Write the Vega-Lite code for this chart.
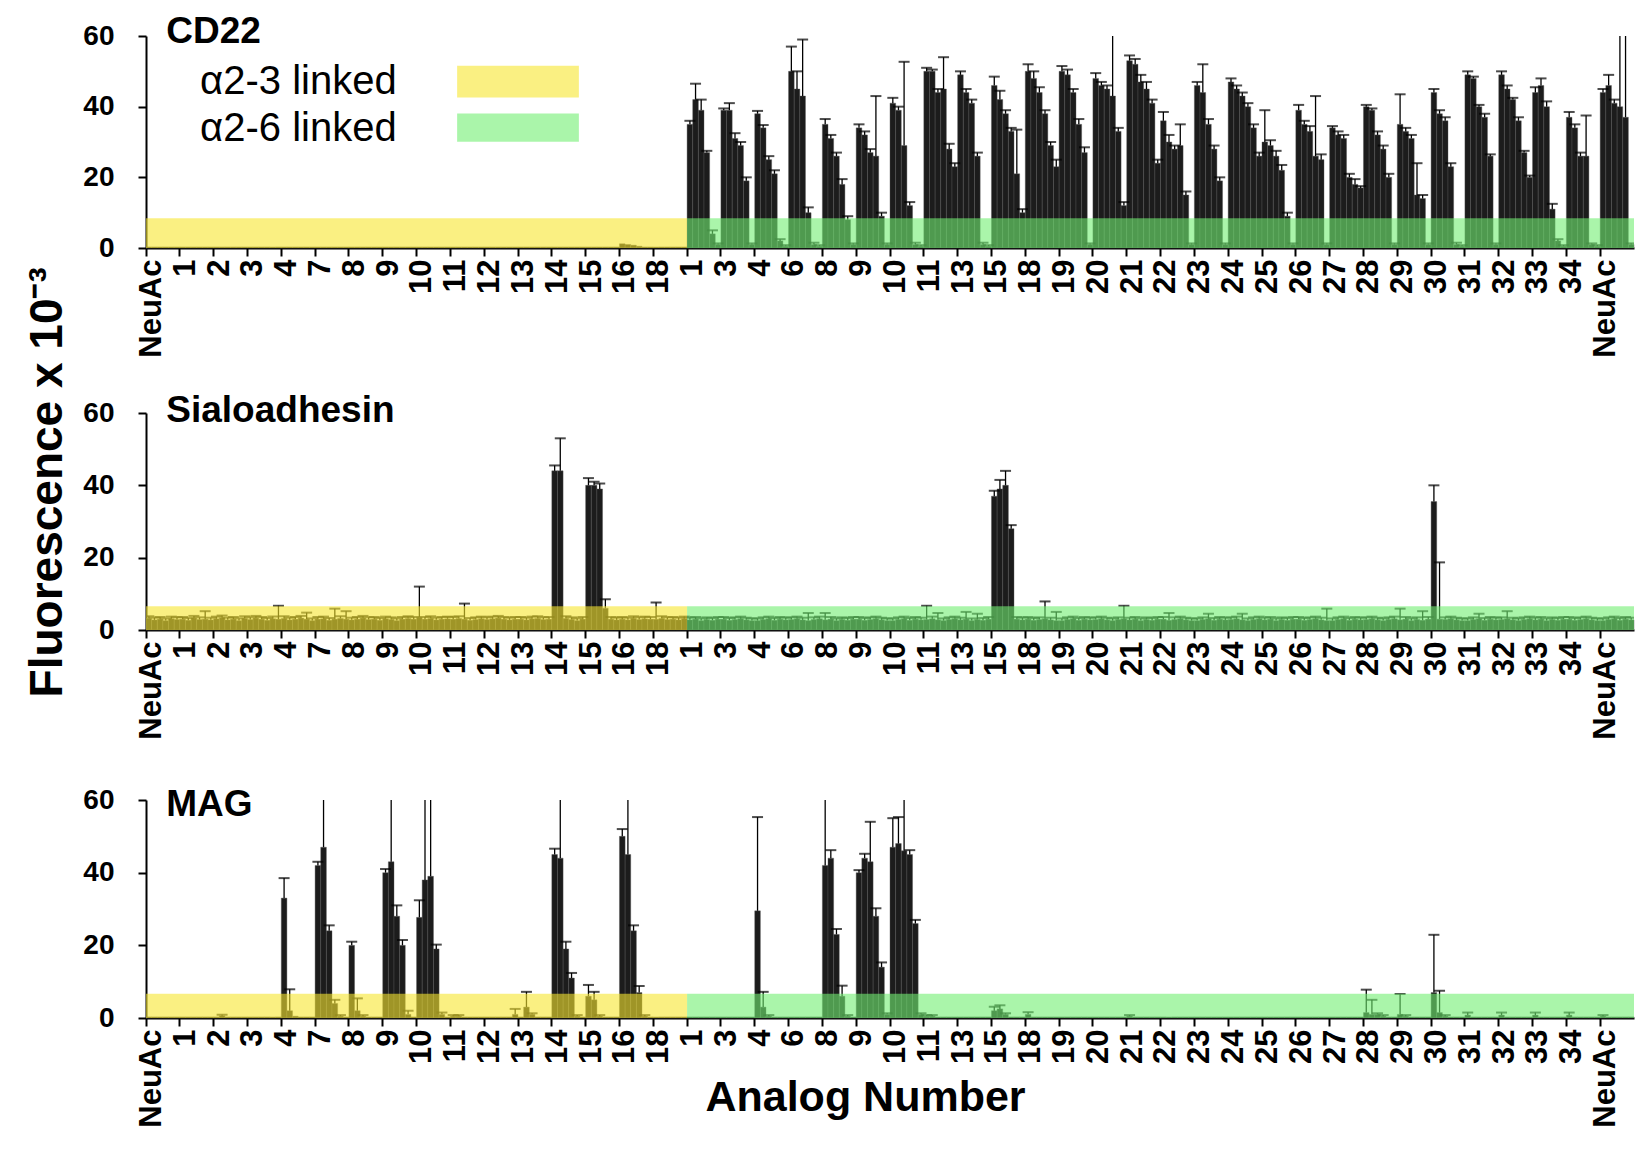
{
"$schema":"https://vega.github.io/schema/vega-lite/v6.json",
"background":"white",
"padding":{"left":24,"top":13,"right":5,"bottom":5},
"spacing":34,
"title":{"text":"Fluorescence x 10⁻³","orient":"left","anchor":"middle","fontSize":46,"fontWeight":"bold","font":"Liberation Sans","color":"black","baseline":"bottom","offset":-35,"dx":88},
"config":{"view":{"stroke":null},"font":"Liberation Sans","axis":{"domainColor":"black","domainWidth":2,"tickColor":"black","tickWidth":2,"tickSize":8,"grid":false,"labelColor":"black","titleColor":"black","labelFont":"Liberation Sans","titleFont":"Liberation Sans"}},
"datasets":{
"cd":[
{"g":1,"i":1,"v":0.3},{"g":1,"i":2,"v":0.3},{"g":1,"i":3,"v":0.3},{"g":1,"i":4,"v":0.3},{"g":1,"i":5,"v":0.3},{"g":1,"i":6,"v":0.3},
{"g":2,"i":1,"v":0.3},{"g":2,"i":2,"v":0.3},{"g":2,"i":3,"v":0.3},{"g":2,"i":4,"v":0.3},{"g":2,"i":5,"v":0.3},{"g":2,"i":6,"v":0.3},
{"g":3,"i":1,"v":0.3},{"g":3,"i":2,"v":0.3},{"g":3,"i":3,"v":0.3},{"g":3,"i":4,"v":0.3},{"g":3,"i":5,"v":0.3},{"g":3,"i":6,"v":0.3},
{"g":4,"i":1,"v":0.3},{"g":4,"i":2,"v":0.3},{"g":4,"i":3,"v":0.3},{"g":4,"i":4,"v":0.3},{"g":4,"i":5,"v":0.3},{"g":4,"i":6,"v":0.3},
{"g":5,"i":1,"v":0.3},{"g":5,"i":2,"v":0.3},{"g":5,"i":3,"v":0.3},{"g":5,"i":4,"v":0.3},{"g":5,"i":5,"v":0.3},{"g":5,"i":6,"v":0.3},
{"g":6,"i":1,"v":0.3},{"g":6,"i":2,"v":0.3},{"g":6,"i":3,"v":0.3},{"g":6,"i":4,"v":0.3},{"g":6,"i":5,"v":0.3},{"g":6,"i":6,"v":0.3},
{"g":7,"i":1,"v":0.3},{"g":7,"i":2,"v":0.3},{"g":7,"i":3,"v":0.3},{"g":7,"i":4,"v":0.3},{"g":7,"i":5,"v":0.3},{"g":7,"i":6,"v":0.3},
{"g":8,"i":1,"v":0.3},{"g":8,"i":2,"v":0.3},{"g":8,"i":3,"v":0.3},{"g":8,"i":4,"v":0.3},{"g":8,"i":5,"v":0.3},{"g":8,"i":6,"v":0.3},
{"g":9,"i":1,"v":0.3},{"g":9,"i":2,"v":0.3},{"g":9,"i":3,"v":0.3},{"g":9,"i":4,"v":0.3},{"g":9,"i":5,"v":0.3},{"g":9,"i":6,"v":0.3},
{"g":10,"i":1,"v":0.3},{"g":10,"i":2,"v":0.3},{"g":10,"i":3,"v":0.3},{"g":10,"i":4,"v":0.3},{"g":10,"i":5,"v":0.3},{"g":10,"i":6,"v":0.3},
{"g":11,"i":1,"v":0.3},{"g":11,"i":2,"v":0.3},{"g":11,"i":3,"v":0.3},{"g":11,"i":4,"v":0.3},{"g":11,"i":5,"v":0.3},{"g":11,"i":6,"v":0.3},
{"g":12,"i":1,"v":0.3},{"g":12,"i":2,"v":0.3},{"g":12,"i":3,"v":0.3},{"g":12,"i":4,"v":0.3},{"g":12,"i":5,"v":0.3},{"g":12,"i":6,"v":0.3},
{"g":13,"i":1,"v":0.3},{"g":13,"i":2,"v":0.3},{"g":13,"i":3,"v":0.3},{"g":13,"i":4,"v":0.3},{"g":13,"i":5,"v":0.3},{"g":13,"i":6,"v":0.3},
{"g":14,"i":1,"v":0.3},{"g":14,"i":2,"v":0.3},{"g":14,"i":3,"v":0.3},{"g":14,"i":4,"v":0.3},{"g":14,"i":5,"v":0.3},{"g":14,"i":6,"v":0.3},
{"g":15,"i":1,"v":1.2},{"g":15,"i":2,"v":1},{"g":15,"i":3,"v":0.8},{"g":15,"i":4,"v":0.5},{"g":15,"i":5,"v":0.3},{"g":15,"i":6,"v":0.3},
{"g":16,"i":1,"v":0.3},{"g":16,"i":2,"v":0.3},{"g":16,"i":3,"v":0.3},{"g":16,"i":4,"v":0.3},{"g":16,"i":5,"v":0.3},{"g":16,"i":6,"v":0.3},
{"g":17,"i":1,"v":35,"h":36},{"g":17,"i":2,"v":42,"h":46.5},{"g":17,"i":3,"v":39,"h":42},{"g":17,"i":4,"v":27,"h":27.5},{"g":17,"i":5,"v":4,"h":5},{"g":17,"i":6,"v":1,"h":1.3},
{"g":18,"i":1,"v":39,"h":39.5},{"g":18,"i":2,"v":39,"h":41},{"g":18,"i":3,"v":31,"h":32.5},{"g":18,"i":4,"v":29,"h":30},{"g":18,"i":5,"v":19,"h":20},{"g":18,"i":6,"v":1,"h":1.3},
{"g":19,"i":1,"v":38,"h":38.8},{"g":19,"i":2,"v":34,"h":34.8},{"g":19,"i":3,"v":25,"h":26},{"g":19,"i":4,"v":21,"h":22},{"g":19,"i":5,"v":2,"h":2.5},{"g":19,"i":6,"v":0.5,"h":0.8},
{"g":20,"i":1,"v":50,"h":57},{"g":20,"i":2,"v":45,"h":50},{"g":20,"i":3,"v":43,"h":59},{"g":20,"i":4,"v":10,"h":11.5},{"g":20,"i":5,"v":1,"h":1.5},{"g":20,"i":6,"v":0.5,"h":0.8},
{"g":21,"i":1,"v":35,"h":36.5},{"g":21,"i":2,"v":31,"h":32},{"g":21,"i":3,"v":26,"h":27},{"g":21,"i":4,"v":18,"h":19.5},{"g":21,"i":5,"v":8,"h":9},{"g":21,"i":6,"v":1,"h":1.3},
{"g":22,"i":1,"v":34,"h":35},{"g":22,"i":2,"v":32,"h":33},{"g":22,"i":3,"v":27,"h":28},{"g":22,"i":4,"v":26,"h":43},{"g":22,"i":5,"v":9,"h":10},{"g":22,"i":6,"v":1,"h":1.3},
{"g":23,"i":1,"v":41,"h":42.5},{"g":23,"i":2,"v":39,"h":40},{"g":23,"i":3,"v":29,"h":52.7},{"g":23,"i":4,"v":12,"h":13},{"g":23,"i":5,"v":1,"h":1.5},{"g":23,"i":6,"v":0.5,"h":0.8},
{"g":24,"i":1,"v":50,"h":51},{"g":24,"i":2,"v":50,"h":50.5},{"g":24,"i":3,"v":44,"h":45},{"g":24,"i":4,"v":45,"h":54},{"g":24,"i":5,"v":28,"h":29.5},{"g":24,"i":6,"v":23,"h":24},
{"g":25,"i":1,"v":49,"h":50},{"g":25,"i":2,"v":44,"h":45},{"g":25,"i":3,"v":41,"h":42},{"g":25,"i":4,"v":26,"h":27},{"g":25,"i":5,"v":1,"h":1.5},{"g":25,"i":6,"v":0.5,"h":0.8},
{"g":26,"i":1,"v":46,"h":48.5},{"g":26,"i":2,"v":42,"h":44.5},{"g":26,"i":3,"v":38,"h":39},{"g":26,"i":4,"v":33,"h":34},{"g":26,"i":5,"v":21,"h":33.5},{"g":26,"i":6,"v":10,"h":11},
{"g":27,"i":1,"v":50,"h":52},{"g":27,"i":2,"v":48,"h":50},{"g":27,"i":3,"v":44,"h":45.5},{"g":27,"i":4,"v":38,"h":39},{"g":27,"i":5,"v":29,"h":30},{"g":27,"i":6,"v":23,"h":25},
{"g":28,"i":1,"v":50,"h":51.5},{"g":28,"i":2,"v":49,"h":50.5},{"g":28,"i":3,"v":44,"h":45},{"g":28,"i":4,"v":35,"h":36.5},{"g":28,"i":5,"v":27,"h":28.5},{"g":28,"i":6,"v":1,"h":1.3},
{"g":29,"i":1,"v":48,"h":49.5},{"g":29,"i":2,"v":46,"h":47},{"g":29,"i":3,"v":45,"h":46},{"g":29,"i":4,"v":43,"h":62},{"g":29,"i":5,"v":33,"h":34},{"g":29,"i":6,"v":12,"h":13},
{"g":30,"i":1,"v":53,"h":54.5},{"g":30,"i":2,"v":52,"h":53.5},{"g":30,"i":3,"v":47,"h":49},{"g":30,"i":4,"v":45,"h":47},{"g":30,"i":5,"v":41,"h":42},{"g":30,"i":6,"v":24,"h":25},
{"g":31,"i":1,"v":36,"h":38.5},{"g":31,"i":2,"v":30,"h":32},{"g":31,"i":3,"v":28,"h":29},{"g":31,"i":4,"v":29,"h":35},{"g":31,"i":5,"v":15,"h":16},{"g":31,"i":6,"v":1,"h":1.3},
{"g":32,"i":1,"v":46,"h":47},{"g":32,"i":2,"v":44,"h":52},{"g":32,"i":3,"v":35,"h":36.5},{"g":32,"i":4,"v":28,"h":29},{"g":32,"i":5,"v":19,"h":20},{"g":32,"i":6,"v":1,"h":1.3},
{"g":33,"i":1,"v":47,"h":48},{"g":33,"i":2,"v":45,"h":46},{"g":33,"i":3,"v":43,"h":44},{"g":33,"i":4,"v":40,"h":41},{"g":33,"i":5,"v":34,"h":35},{"g":33,"i":6,"v":26,"h":27},
{"g":34,"i":1,"v":30,"h":39},{"g":34,"i":2,"v":29,"h":30.5},{"g":34,"i":3,"v":26,"h":27.5},{"g":34,"i":4,"v":22,"h":23.5},{"g":34,"i":5,"v":9,"h":10},{"g":34,"i":6,"v":1,"h":1.3},
{"g":35,"i":1,"v":39,"h":40.5},{"g":35,"i":2,"v":35,"h":36},{"g":35,"i":3,"v":33,"h":34.5},{"g":35,"i":4,"v":26,"h":43},{"g":35,"i":5,"v":25,"h":26.5},{"g":35,"i":6,"v":1,"h":1.3},
{"g":36,"i":1,"v":34,"h":34.5},{"g":36,"i":2,"v":32,"h":33},{"g":36,"i":3,"v":31,"h":32},{"g":36,"i":4,"v":20,"h":21},{"g":36,"i":5,"v":18,"h":19.5},{"g":36,"i":6,"v":17,"h":17.5},
{"g":37,"i":1,"v":40,"h":40.5},{"g":37,"i":2,"v":39,"h":39.5},{"g":37,"i":3,"v":32,"h":33},{"g":37,"i":4,"v":28,"h":29},{"g":37,"i":5,"v":20,"h":21},{"g":37,"i":6,"v":1,"h":1.3},
{"g":38,"i":1,"v":35,"h":43.5},{"g":38,"i":2,"v":33,"h":34},{"g":38,"i":3,"v":31,"h":32},{"g":38,"i":4,"v":15,"h":24},{"g":38,"i":5,"v":14,"h":15},{"g":38,"i":6,"v":1,"h":1.3},
{"g":39,"i":1,"v":44,"h":45},{"g":39,"i":2,"v":38,"h":39},{"g":39,"i":3,"v":36,"h":37},{"g":39,"i":4,"v":23,"h":24},{"g":39,"i":5,"v":1,"h":1.5},{"g":39,"i":6,"v":0.5,"h":0.8},
{"g":40,"i":1,"v":49,"h":50},{"g":40,"i":2,"v":48,"h":48.5},{"g":40,"i":3,"v":40,"h":40.5},{"g":40,"i":4,"v":37,"h":38},{"g":40,"i":5,"v":26,"h":26.5},{"g":40,"i":6,"v":1,"h":1.3},
{"g":41,"i":1,"v":49,"h":50},{"g":41,"i":2,"v":45,"h":46},{"g":41,"i":3,"v":42,"h":42.5},{"g":41,"i":4,"v":36,"h":37},{"g":41,"i":5,"v":27,"h":27.5},{"g":41,"i":6,"v":20,"h":20.5},
{"g":42,"i":1,"v":44,"h":45.5},{"g":42,"i":2,"v":46,"h":48},{"g":42,"i":3,"v":40,"h":41.5},{"g":42,"i":4,"v":11,"h":12.5},{"g":42,"i":5,"v":2,"h":2.5},{"g":42,"i":6,"v":0.5,"h":0.8},
{"g":43,"i":1,"v":37,"h":38.5},{"g":43,"i":2,"v":34,"h":35},{"g":43,"i":3,"v":26,"h":27},{"g":43,"i":4,"v":26,"h":37.5},{"g":43,"i":5,"v":1,"h":1.3},{"g":43,"i":6,"v":0.5,"h":0.8},
{"g":44,"i":1,"v":44,"h":45},{"g":44,"i":2,"v":46,"h":49},{"g":44,"i":3,"v":41,"h":42},{"g":44,"i":4,"v":40,"h":65},{"g":44,"i":5,"v":37,"h":65},{"g":44,"i":6,"v":1,"h":1.3}
],
"sia":[
{"g":1,"i":1,"v":3.2,"h":3.8},{"g":1,"i":2,"v":2.8,"h":3.4},{"g":1,"i":3,"v":3.0,"h":3.6},{"g":1,"i":4,"v":2.6,"h":3.2},{"g":1,"i":5,"v":3.1,"h":3.7},{"g":1,"i":6,"v":2.9,"h":3.5},
{"g":2,"i":1,"v":3.0,"h":3.6},{"g":2,"i":2,"v":2.7,"h":3.3},{"g":2,"i":3,"v":3.3,"h":3.9},{"g":2,"i":4,"v":2.9,"h":3.5},{"g":2,"i":5,"v":3.0,"h":5.2},{"g":2,"i":6,"v":2.8,"h":3.4},
{"g":3,"i":1,"v":3.1,"h":3.7},{"g":3,"i":2,"v":3.4,"h":4.0},{"g":3,"i":3,"v":2.8,"h":3.4},{"g":3,"i":4,"v":3.0,"h":3.6},{"g":3,"i":5,"v":2.6,"h":3.2},{"g":3,"i":6,"v":3.2,"h":3.8},
{"g":4,"i":1,"v":2.9,"h":3.5},{"g":4,"i":2,"v":3.3,"h":3.9},{"g":4,"i":3,"v":3.0,"h":3.6},{"g":4,"i":4,"v":2.7,"h":3.3},{"g":4,"i":5,"v":3.1,"h":3.7},{"g":4,"i":6,"v":3.0,"h":6.7},
{"g":5,"i":1,"v":3.2,"h":3.8},{"g":5,"i":2,"v":2.8,"h":3.4},{"g":5,"i":3,"v":3.0,"h":3.6},{"g":5,"i":4,"v":3.3,"h":3.9},{"g":5,"i":5,"v":3.0,"h":4.8},{"g":5,"i":6,"v":2.6,"h":3.2},
{"g":6,"i":1,"v":3.0,"h":3.6},{"g":6,"i":2,"v":3.1,"h":3.7},{"g":6,"i":3,"v":2.7,"h":3.3},{"g":6,"i":4,"v":3.0,"h":5.9},{"g":6,"i":5,"v":3.2,"h":3.8},{"g":6,"i":6,"v":3.0,"h":5.2},
{"g":7,"i":1,"v":2.8,"h":3.4},{"g":7,"i":2,"v":3.0,"h":3.6},{"g":7,"i":3,"v":3.3,"h":3.9},{"g":7,"i":4,"v":2.9,"h":3.5},{"g":7,"i":5,"v":3.0,"h":3.6},{"g":7,"i":6,"v":2.7,"h":3.3},
{"g":8,"i":1,"v":3.1,"h":3.7},{"g":8,"i":2,"v":2.9,"h":3.5},{"g":8,"i":3,"v":2.6,"h":3.2},{"g":8,"i":4,"v":3.0,"h":3.6},{"g":8,"i":5,"v":3.2,"h":3.8},{"g":8,"i":6,"v":3.0,"h":3.6},
{"g":9,"i":1,"v":3.5,"h":12},{"g":9,"i":2,"v":3.0,"h":3.6},{"g":9,"i":3,"v":3.2,"h":3.8},{"g":9,"i":4,"v":2.8,"h":3.4},{"g":9,"i":5,"v":3.0,"h":3.6},{"g":9,"i":6,"v":3.1,"h":3.7},
{"g":10,"i":1,"v":3.0,"h":3.6},{"g":10,"i":2,"v":3.2,"h":3.8},{"g":10,"i":3,"v":3.0,"h":7.3},{"g":10,"i":4,"v":2.7,"h":3.3},{"g":10,"i":5,"v":2.9,"h":3.5},{"g":10,"i":6,"v":3.1,"h":3.7},
{"g":11,"i":1,"v":2.9,"h":3.5},{"g":11,"i":2,"v":3.1,"h":3.7},{"g":11,"i":3,"v":3.3,"h":3.9},{"g":11,"i":4,"v":3.0,"h":3.6},{"g":11,"i":5,"v":2.8,"h":3.4},{"g":11,"i":6,"v":3.0,"h":3.6},
{"g":12,"i":1,"v":3.0,"h":3.6},{"g":12,"i":2,"v":2.8,"h":3.4},{"g":12,"i":3,"v":3.1,"h":3.7},{"g":12,"i":4,"v":3.2,"h":3.8},{"g":12,"i":5,"v":2.9,"h":3.5},{"g":12,"i":6,"v":3.0,"h":3.6},
{"g":13,"i":1,"v":44,"h":45.5},{"g":13,"i":2,"v":44,"h":53},{"g":13,"i":3,"v":3.2,"h":3.8},{"g":13,"i":4,"v":2.9,"h":3.5},{"g":13,"i":5,"v":2.6,"h":3.2},{"g":13,"i":6,"v":3.0,"h":3.6},
{"g":14,"i":1,"v":40,"h":42},{"g":14,"i":2,"v":40,"h":41},{"g":14,"i":3,"v":39,"h":40.5},{"g":14,"i":4,"v":6,"h":8.5},{"g":14,"i":5,"v":3.0,"h":3.6},{"g":14,"i":6,"v":2.8,"h":3.4},
{"g":15,"i":1,"v":3.0,"h":3.6},{"g":15,"i":2,"v":2.8,"h":3.4},{"g":15,"i":3,"v":3.2,"h":3.8},{"g":15,"i":4,"v":2.9,"h":3.5},{"g":15,"i":5,"v":3.1,"h":3.7},{"g":15,"i":6,"v":3.0,"h":3.6},
{"g":16,"i":1,"v":3.0,"h":7.6},{"g":16,"i":2,"v":3.2,"h":3.8},{"g":16,"i":3,"v":2.9,"h":3.5},{"g":16,"i":4,"v":3.0,"h":3.6},{"g":16,"i":5,"v":2.8,"h":3.4},{"g":16,"i":6,"v":3.1,"h":3.7},
{"g":17,"i":1,"v":2.8,"h":3.4},{"g":17,"i":2,"v":3.0,"h":3.6},{"g":17,"i":3,"v":2.6,"h":3.2},{"g":17,"i":4,"v":2.9,"h":3.5},{"g":17,"i":5,"v":2.7,"h":3.3},{"g":17,"i":6,"v":3.0,"h":3.6},
{"g":18,"i":1,"v":3.0,"h":3.6},{"g":18,"i":2,"v":2.7,"h":3.3},{"g":18,"i":3,"v":2.9,"h":3.5},{"g":18,"i":4,"v":3.1,"h":3.7},{"g":18,"i":5,"v":2.8,"h":3.4},{"g":18,"i":6,"v":2.6,"h":3.2},
{"g":19,"i":1,"v":2.6,"h":3.2},{"g":19,"i":2,"v":2.9,"h":3.5},{"g":19,"i":3,"v":3.1,"h":3.7},{"g":19,"i":4,"v":2.7,"h":3.3},{"g":19,"i":5,"v":3.0,"h":3.6},{"g":19,"i":6,"v":2.8,"h":3.4},
{"g":20,"i":1,"v":2.9,"h":3.5},{"g":20,"i":2,"v":3.1,"h":3.7},{"g":20,"i":3,"v":2.8,"h":3.4},{"g":20,"i":4,"v":2.6,"h":4.7},{"g":20,"i":5,"v":2.9,"h":3.5},{"g":20,"i":6,"v":3.1,"h":3.7},
{"g":21,"i":1,"v":2.8,"h":4.7},{"g":21,"i":2,"v":3.0,"h":3.6},{"g":21,"i":3,"v":2.6,"h":3.2},{"g":21,"i":4,"v":2.9,"h":3.5},{"g":21,"i":5,"v":2.7,"h":3.3},{"g":21,"i":6,"v":3.0,"h":3.6},
{"g":22,"i":1,"v":3.0,"h":3.6},{"g":22,"i":2,"v":2.7,"h":3.3},{"g":22,"i":3,"v":2.9,"h":3.5},{"g":22,"i":4,"v":3.1,"h":3.7},{"g":22,"i":5,"v":2.8,"h":3.4},{"g":22,"i":6,"v":2.6,"h":3.2},
{"g":23,"i":1,"v":2.6,"h":3.2},{"g":23,"i":2,"v":2.9,"h":3.5},{"g":23,"i":3,"v":3.1,"h":3.7},{"g":23,"i":4,"v":2.7,"h":3.3},{"g":23,"i":5,"v":3.0,"h":3.6},{"g":23,"i":6,"v":2.8,"h":3.4},
{"g":24,"i":1,"v":2.9,"h":6.7},{"g":24,"i":2,"v":3.1,"h":3.7},{"g":24,"i":3,"v":2.8,"h":4.7},{"g":24,"i":4,"v":2.6,"h":3.2},{"g":24,"i":5,"v":2.9,"h":3.5},{"g":24,"i":6,"v":3.1,"h":3.7},
{"g":25,"i":1,"v":2.8,"h":3.4},{"g":25,"i":2,"v":3.0,"h":5.0},{"g":25,"i":3,"v":2.6,"h":3.2},{"g":25,"i":4,"v":2.9,"h":4.5},{"g":25,"i":5,"v":2.7,"h":3.3},{"g":25,"i":6,"v":3.0,"h":3.6},
{"g":26,"i":1,"v":37,"h":38.5},{"g":26,"i":2,"v":39,"h":41.5},{"g":26,"i":3,"v":40,"h":44},{"g":26,"i":4,"v":28,"h":29},{"g":26,"i":5,"v":3.0,"h":3.6},{"g":26,"i":6,"v":2.8,"h":3.4},
{"g":27,"i":1,"v":3.0,"h":3.6},{"g":27,"i":2,"v":2.7,"h":3.3},{"g":27,"i":3,"v":2.9,"h":3.5},{"g":27,"i":4,"v":3.1,"h":7.9},{"g":27,"i":5,"v":2.8,"h":3.4},{"g":27,"i":6,"v":2.6,"h":5.0},
{"g":28,"i":1,"v":2.6,"h":3.2},{"g":28,"i":2,"v":2.9,"h":3.5},{"g":28,"i":3,"v":3.1,"h":3.7},{"g":28,"i":4,"v":2.7,"h":3.3},{"g":28,"i":5,"v":3.0,"h":3.6},{"g":28,"i":6,"v":2.8,"h":3.4},
{"g":29,"i":1,"v":2.9,"h":3.5},{"g":29,"i":2,"v":3.1,"h":3.7},{"g":29,"i":3,"v":2.8,"h":3.4},{"g":29,"i":4,"v":2.6,"h":3.2},{"g":29,"i":5,"v":2.9,"h":3.5},{"g":29,"i":6,"v":3.1,"h":6.7},
{"g":30,"i":1,"v":2.8,"h":3.4},{"g":30,"i":2,"v":3.0,"h":3.6},{"g":30,"i":3,"v":2.6,"h":3.2},{"g":30,"i":4,"v":2.9,"h":3.5},{"g":30,"i":5,"v":2.7,"h":3.3},{"g":30,"i":6,"v":3.0,"h":3.6},
{"g":31,"i":1,"v":3.0,"h":3.6},{"g":31,"i":2,"v":2.7,"h":4.7},{"g":31,"i":3,"v":2.9,"h":3.5},{"g":31,"i":4,"v":3.1,"h":3.7},{"g":31,"i":5,"v":2.8,"h":3.4},{"g":31,"i":6,"v":2.6,"h":3.2},
{"g":32,"i":1,"v":2.6,"h":3.2},{"g":32,"i":2,"v":2.9,"h":3.5},{"g":32,"i":3,"v":3.1,"h":4.5},{"g":32,"i":4,"v":2.7,"h":3.3},{"g":32,"i":5,"v":3.0,"h":3.6},{"g":32,"i":6,"v":2.8,"h":3.4},
{"g":33,"i":1,"v":2.9,"h":3.5},{"g":33,"i":2,"v":3.1,"h":3.7},{"g":33,"i":3,"v":2.8,"h":4.5},{"g":33,"i":4,"v":2.6,"h":3.2},{"g":33,"i":5,"v":2.9,"h":3.5},{"g":33,"i":6,"v":3.1,"h":3.7},
{"g":34,"i":1,"v":2.8,"h":3.4},{"g":34,"i":2,"v":3.0,"h":3.6},{"g":34,"i":3,"v":2.6,"h":3.2},{"g":34,"i":4,"v":2.9,"h":3.5},{"g":34,"i":5,"v":2.7,"h":3.3},{"g":34,"i":6,"v":3.0,"h":3.6},
{"g":35,"i":1,"v":3.0,"h":3.6},{"g":35,"i":2,"v":2.7,"h":3.3},{"g":35,"i":3,"v":2.9,"h":3.5},{"g":35,"i":4,"v":3.1,"h":3.7},{"g":35,"i":5,"v":2.8,"h":3.4},{"g":35,"i":6,"v":2.6,"h":5.9},
{"g":36,"i":1,"v":2.6,"h":3.2},{"g":36,"i":2,"v":2.9,"h":3.5},{"g":36,"i":3,"v":3.1,"h":3.7},{"g":36,"i":4,"v":2.7,"h":3.3},{"g":36,"i":5,"v":3.0,"h":3.6},{"g":36,"i":6,"v":2.8,"h":3.4},
{"g":37,"i":1,"v":2.9,"h":3.5},{"g":37,"i":2,"v":3.1,"h":3.7},{"g":37,"i":3,"v":2.8,"h":3.4},{"g":37,"i":4,"v":2.6,"h":3.2},{"g":37,"i":5,"v":2.9,"h":3.5},{"g":37,"i":6,"v":3.1,"h":3.7},
{"g":38,"i":1,"v":2.8,"h":5.9},{"g":38,"i":2,"v":3.0,"h":3.6},{"g":38,"i":3,"v":2.6,"h":3.2},{"g":38,"i":4,"v":2.9,"h":3.5},{"g":38,"i":5,"v":2.7,"h":5.2},{"g":38,"i":6,"v":3.0,"h":3.6},
{"g":39,"i":1,"v":35.5,"h":40},{"g":39,"i":2,"v":3.0,"h":18.7},{"g":39,"i":3,"v":2.9,"h":3.5},{"g":39,"i":4,"v":3.1,"h":3.7},{"g":39,"i":5,"v":2.8,"h":3.4},{"g":39,"i":6,"v":2.6,"h":3.2},
{"g":40,"i":1,"v":2.6,"h":3.2},{"g":40,"i":2,"v":2.9,"h":3.5},{"g":40,"i":3,"v":3.1,"h":4.5},{"g":40,"i":4,"v":2.7,"h":3.3},{"g":40,"i":5,"v":3.0,"h":3.6},{"g":40,"i":6,"v":2.8,"h":3.4},
{"g":41,"i":1,"v":2.9,"h":3.5},{"g":41,"i":2,"v":3.1,"h":5.2},{"g":41,"i":3,"v":2.8,"h":3.4},{"g":41,"i":4,"v":2.6,"h":3.2},{"g":41,"i":5,"v":2.9,"h":3.5},{"g":41,"i":6,"v":3.1,"h":3.7},
{"g":42,"i":1,"v":2.8,"h":3.4},{"g":42,"i":2,"v":3.0,"h":3.6},{"g":42,"i":3,"v":2.6,"h":3.2},{"g":42,"i":4,"v":2.9,"h":3.5},{"g":42,"i":5,"v":2.7,"h":3.3},{"g":42,"i":6,"v":3.0,"h":3.6},
{"g":43,"i":1,"v":3.0,"h":3.6},{"g":43,"i":2,"v":2.7,"h":3.3},{"g":43,"i":3,"v":2.9,"h":3.5},{"g":43,"i":4,"v":3.1,"h":3.7},{"g":43,"i":5,"v":2.8,"h":3.4},{"g":43,"i":6,"v":2.6,"h":3.2},
{"g":44,"i":1,"v":2.6,"h":3.2},{"g":44,"i":2,"v":2.9,"h":3.5},{"g":44,"i":3,"v":3.1,"h":3.7},{"g":44,"i":4,"v":2.7,"h":3.3},{"g":44,"i":5,"v":3.0,"h":3.6},{"g":44,"i":6,"v":2.8,"h":3.4}
],
"mag":[
{"g":1,"i":1,"v":0.3},{"g":1,"i":2,"v":0.3},{"g":1,"i":3,"v":0.3},{"g":1,"i":4,"v":0.3},{"g":1,"i":5,"v":0.3},{"g":1,"i":6,"v":0.3},
{"g":2,"i":1,"v":0.3},{"g":2,"i":2,"v":0.3},{"g":2,"i":3,"v":0.3},{"g":2,"i":4,"v":0.3},{"g":2,"i":5,"v":0.3},{"g":2,"i":6,"v":0.3},
{"g":3,"i":1,"v":0.3},{"g":3,"i":2,"v":0.6,"h":0.9},{"g":3,"i":3,"v":0.3},{"g":3,"i":4,"v":0.3},{"g":3,"i":5,"v":0.3},{"g":3,"i":6,"v":0.3},
{"g":4,"i":1,"v":0.3},{"g":4,"i":2,"v":0.3},{"g":4,"i":3,"v":0.3},{"g":4,"i":4,"v":0.3},{"g":4,"i":5,"v":0.3},{"g":4,"i":6,"v":0.3},
{"g":5,"i":1,"v":33,"h":38.5},{"g":5,"i":2,"v":2,"h":7.9},{"g":5,"i":3,"v":0.5},{"g":5,"i":4,"v":0.3},{"g":5,"i":5,"v":0.3},{"g":5,"i":6,"v":0.3},
{"g":6,"i":1,"v":42,"h":43},{"g":6,"i":2,"v":47,"h":63},{"g":6,"i":3,"v":24,"h":25.5},{"g":6,"i":4,"v":4,"h":5},{"g":6,"i":5,"v":0.5,"h":0.8},{"g":6,"i":6,"v":0.3},
{"g":7,"i":1,"v":20,"h":21},{"g":7,"i":2,"v":2,"h":5.4},{"g":7,"i":3,"v":0.5,"h":0.8},{"g":7,"i":4,"v":0.3},{"g":7,"i":5,"v":0.3},{"g":7,"i":6,"v":0.3},
{"g":8,"i":1,"v":40,"h":41},{"g":8,"i":2,"v":43,"h":63},{"g":8,"i":3,"v":28,"h":31},{"g":8,"i":4,"v":20,"h":21.5},{"g":8,"i":5,"v":1,"h":2},{"g":8,"i":6,"v":0.3},
{"g":9,"i":1,"v":27.7,"h":32.4},{"g":9,"i":2,"v":38,"h":63},{"g":9,"i":3,"v":39,"h":63},{"g":9,"i":4,"v":19,"h":20.2},{"g":9,"i":5,"v":1,"h":1.5},{"g":9,"i":6,"v":0.3},
{"g":10,"i":1,"v":0.5,"h":0.8},{"g":10,"i":2,"v":0.5,"h":0.8},{"g":10,"i":3,"v":0.3},{"g":10,"i":4,"v":0.3},{"g":10,"i":5,"v":0.3},{"g":10,"i":6,"v":0.3},
{"g":11,"i":1,"v":0.3},{"g":11,"i":2,"v":0.3},{"g":11,"i":3,"v":0.3},{"g":11,"i":4,"v":0.3},{"g":11,"i":5,"v":0.3},{"g":11,"i":6,"v":1,"h":2.5},
{"g":12,"i":1,"v":0.3},{"g":12,"i":2,"v":3,"h":7.2},{"g":12,"i":3,"v":1,"h":1.3},{"g":12,"i":4,"v":0.3},{"g":12,"i":5,"v":0.3},{"g":12,"i":6,"v":0.3},
{"g":13,"i":1,"v":45,"h":46.6},{"g":13,"i":2,"v":44,"h":63},{"g":13,"i":3,"v":19,"h":21},{"g":13,"i":4,"v":11,"h":12.4},{"g":13,"i":5,"v":0.5,"h":0.8},{"g":13,"i":6,"v":0.3},
{"g":14,"i":1,"v":6,"h":9.1},{"g":14,"i":2,"v":5,"h":7.2},{"g":14,"i":3,"v":0.5,"h":0.8},{"g":14,"i":4,"v":0.3},{"g":14,"i":5,"v":0.3},{"g":14,"i":6,"v":0.3},
{"g":15,"i":1,"v":50,"h":52},{"g":15,"i":2,"v":45,"h":63},{"g":15,"i":3,"v":24,"h":25.5},{"g":15,"i":4,"v":7,"h":8.8},{"g":15,"i":5,"v":0.5,"h":0.8},{"g":15,"i":6,"v":0.3},
{"g":16,"i":1,"v":0.3},{"g":16,"i":2,"v":0.3},{"g":16,"i":3,"v":0.3},{"g":16,"i":4,"v":0.3},{"g":16,"i":5,"v":0.3},{"g":16,"i":6,"v":0.3},
{"g":17,"i":1,"v":0.3},{"g":17,"i":2,"v":0.3},{"g":17,"i":3,"v":0.3},{"g":17,"i":4,"v":0.3},{"g":17,"i":5,"v":0.3},{"g":17,"i":6,"v":0.3},
{"g":18,"i":1,"v":0.3},{"g":18,"i":2,"v":0.3},{"g":18,"i":3,"v":0.3},{"g":18,"i":4,"v":0.3},{"g":18,"i":5,"v":0.3},{"g":18,"i":6,"v":0.3},
{"g":19,"i":1,"v":29.5,"h":55.3},{"g":19,"i":2,"v":3,"h":7.2},{"g":19,"i":3,"v":0.5,"h":0.8},{"g":19,"i":4,"v":0.3},{"g":19,"i":5,"v":0.3},{"g":19,"i":6,"v":0.3},
{"g":20,"i":1,"v":0.3},{"g":20,"i":2,"v":0.3},{"g":20,"i":3,"v":0.3},{"g":20,"i":4,"v":0.3},{"g":20,"i":5,"v":0.3},{"g":20,"i":6,"v":0.3},
{"g":21,"i":1,"v":42,"h":63},{"g":21,"i":2,"v":44,"h":46.2},{"g":21,"i":3,"v":23,"h":24.5},{"g":21,"i":4,"v":6,"h":8.9},{"g":21,"i":5,"v":0.5,"h":0.8},{"g":21,"i":6,"v":0.3},
{"g":22,"i":1,"v":40,"h":40.7},{"g":22,"i":2,"v":44,"h":45.2},{"g":22,"i":3,"v":43,"h":54},{"g":22,"i":4,"v":28,"h":30.2},{"g":22,"i":5,"v":14,"h":15.3},{"g":22,"i":6,"v":1,"h":1.3},
{"g":23,"i":1,"v":47,"h":55},{"g":23,"i":2,"v":48,"h":55.3},{"g":23,"i":3,"v":46,"h":63},{"g":23,"i":4,"v":45,"h":46.2},{"g":23,"i":5,"v":26,"h":27},{"g":23,"i":6,"v":1,"h":1.3},
{"g":24,"i":1,"v":0.5,"h":0.8},{"g":24,"i":2,"v":0.5,"h":0.8},{"g":24,"i":3,"v":0.3},{"g":24,"i":4,"v":0.3},{"g":24,"i":5,"v":0.3},{"g":24,"i":6,"v":0.3},
{"g":25,"i":1,"v":0.3},{"g":25,"i":2,"v":0.3},{"g":25,"i":3,"v":0.3},{"g":25,"i":4,"v":0.3},{"g":25,"i":5,"v":0.3},{"g":25,"i":6,"v":0.3},
{"g":26,"i":1,"v":2,"h":3.1},{"g":26,"i":2,"v":2.5,"h":3.5},{"g":26,"i":3,"v":1,"h":1.3},{"g":26,"i":4,"v":0.3},{"g":26,"i":5,"v":0.3},{"g":26,"i":6,"v":0.3},
{"g":27,"i":1,"v":1,"h":1.6},{"g":27,"i":2,"v":0.3},{"g":27,"i":3,"v":0.3},{"g":27,"i":4,"v":0.3},{"g":27,"i":5,"v":0.3},{"g":27,"i":6,"v":0.3},
{"g":28,"i":1,"v":0.3},{"g":28,"i":2,"v":0.3},{"g":28,"i":3,"v":0.3},{"g":28,"i":4,"v":0.3},{"g":28,"i":5,"v":0.3},{"g":28,"i":6,"v":0.3},
{"g":29,"i":1,"v":0.3},{"g":29,"i":2,"v":0.3},{"g":29,"i":3,"v":0.3},{"g":29,"i":4,"v":0.3},{"g":29,"i":5,"v":0.3},{"g":29,"i":6,"v":0.3},
{"g":30,"i":1,"v":0.5,"h":0.8},{"g":30,"i":2,"v":0.3},{"g":30,"i":3,"v":0.3},{"g":30,"i":4,"v":0.3},{"g":30,"i":5,"v":0.3},{"g":30,"i":6,"v":0.3},
{"g":31,"i":1,"v":0.3},{"g":31,"i":2,"v":0.3},{"g":31,"i":3,"v":0.3},{"g":31,"i":4,"v":0.3},{"g":31,"i":5,"v":0.3},{"g":31,"i":6,"v":0.3},
{"g":32,"i":1,"v":0.3},{"g":32,"i":2,"v":0.3},{"g":32,"i":3,"v":0.3},{"g":32,"i":4,"v":0.3},{"g":32,"i":5,"v":0.3},{"g":32,"i":6,"v":0.3},
{"g":33,"i":1,"v":0.3},{"g":33,"i":2,"v":0.3},{"g":33,"i":3,"v":0.3},{"g":33,"i":4,"v":0.3},{"g":33,"i":5,"v":0.3},{"g":33,"i":6,"v":0.3},
{"g":34,"i":1,"v":0.3},{"g":34,"i":2,"v":0.3},{"g":34,"i":3,"v":0.3},{"g":34,"i":4,"v":0.3},{"g":34,"i":5,"v":0.3},{"g":34,"i":6,"v":0.3},
{"g":35,"i":1,"v":0.3},{"g":35,"i":2,"v":0.3},{"g":35,"i":3,"v":0.3},{"g":35,"i":4,"v":0.3},{"g":35,"i":5,"v":0.3},{"g":35,"i":6,"v":0.3},
{"g":36,"i":1,"v":0.3},{"g":36,"i":2,"v":0.3},{"g":36,"i":3,"v":0.3},{"g":36,"i":4,"v":0.3},{"g":36,"i":5,"v":0.3},{"g":36,"i":6,"v":0.3},
{"g":37,"i":1,"v":1.5,"h":7.8},{"g":37,"i":2,"v":1,"h":5},{"g":37,"i":3,"v":1,"h":1.3},{"g":37,"i":4,"v":0.5,"h":0.8},{"g":37,"i":5,"v":0.3},{"g":37,"i":6,"v":0.3},
{"g":38,"i":1,"v":1,"h":6.6},{"g":38,"i":2,"v":0.5,"h":0.8},{"g":38,"i":3,"v":0.3},{"g":38,"i":4,"v":0.3},{"g":38,"i":5,"v":0.3},{"g":38,"i":6,"v":0.3},
{"g":39,"i":1,"v":7,"h":22.9},{"g":39,"i":2,"v":1.5,"h":7.5},{"g":39,"i":3,"v":0.5,"h":0.8},{"g":39,"i":4,"v":0.3},{"g":39,"i":5,"v":0.3},{"g":39,"i":6,"v":0.3},
{"g":40,"i":1,"v":0.8,"h":1.5},{"g":40,"i":2,"v":0.3},{"g":40,"i":3,"v":0.3},{"g":40,"i":4,"v":0.3},{"g":40,"i":5,"v":0.3},{"g":40,"i":6,"v":0.3},
{"g":41,"i":1,"v":0.8,"h":1.5},{"g":41,"i":2,"v":0.3},{"g":41,"i":3,"v":0.3},{"g":41,"i":4,"v":0.3},{"g":41,"i":5,"v":0.3},{"g":41,"i":6,"v":0.3},
{"g":42,"i":1,"v":0.8,"h":1.5},{"g":42,"i":2,"v":0.3},{"g":42,"i":3,"v":0.3},{"g":42,"i":4,"v":0.3},{"g":42,"i":5,"v":0.3},{"g":42,"i":6,"v":0.3},
{"g":43,"i":1,"v":0.8,"h":1.5},{"g":43,"i":2,"v":0.3},{"g":43,"i":3,"v":0.3},{"g":43,"i":4,"v":0.3},{"g":43,"i":5,"v":0.3},{"g":43,"i":6,"v":0.3},
{"g":44,"i":1,"v":0.5,"h":0.8},{"g":44,"i":2,"v":0.3},{"g":44,"i":3,"v":0.3},{"g":44,"i":4,"v":0.3},{"g":44,"i":5,"v":0.3},{"g":44,"i":6,"v":0.3}
]
},
"vconcat":[
{
"width":1488,"height":212,
"resolve":{"scale":{"x":"independent"}},
"layer":[
{"data":{"name":"cd"},
"encoding":{"x":{"field":"g","type":"ordinal","scale":{"paddingInner":0,"paddingOuter":0},"axis":{"bandPosition":0,"labelOffset":-11,"labelAngle":270,"labelFontSize":31,"labelFontWeight":"bold","labelPadding":3,"labelOverlap":false,"title":null,"labelExpr":"['NeuAc','1','2','3','4','7','8','9','10','11','12','13','14','15','16','18','1','3','4','6','8','9','10','11','13','15','18','19','20','21','22','23','24','25','26','27','28','29','30','31','32','33','34','NeuAc'][datum.value-1]"}},
"xOffset":{"field":"i","type":"ordinal","scale":{"paddingInner":0,"paddingOuter":0}}},
"layer":[
{"mark":{"type":"bar","fill":"#1c1c1c","stroke":"#555555","strokeWidth":0.4},"encoding":{"y":{"field":"v","type":"quantitative","scale":{"domain":[0,60],"nice":false},"axis":{"values":[0,10,20,30,40,50,60],"labelFontSize":28,"labelFontWeight":"bold","labelPadding":24,"title":null}}}},
{"transform":[{"filter":"isValid(datum.h)"}],"mark":{"type":"rule","color":"black","strokeWidth":1.3,"clip":true},"encoding":{"y":{"field":"v","type":"quantitative","scale":{"domain":[0,60],"nice":false}},"y2":{"field":"h"}}},
{"transform":[{"filter":"isValid(datum.h)"}],"mark":{"type":"tick","color":"black","thickness":2,"size":11,"clip":true},"encoding":{"y":{"field":"h","type":"quantitative","scale":{"domain":[0,60],"nice":false}}}}
]},
{"layer":[
{"data":{"values":[{"k":"a23","x0":0,"x1":16,"y0":0,"y1":8.4},{"k":"a26","x0":16,"x1":44,"y0":0,"y1":8.4},{"k":"a23","x0":9.2,"x1":12.8,"y0":42.6,"y1":51.6},{"k":"a26","x0":9.2,"x1":12.8,"y0":30.1,"y1":38.1}]},
"mark":{"type":"rect","opacity":0.6},
"encoding":{"x":{"field":"x0","type":"quantitative","scale":{"domain":[0,44],"nice":false,"zero":false},"axis":null},"x2":{"field":"x1"},"y":{"field":"y0","type":"quantitative","scale":{"domain":[0,60],"nice":false}},"y2":{"field":"y1"},"color":{"field":"k","type":"nominal","scale":{"domain":["a23","a26"],"range":["#f7e62f","#71ee71"]},"legend":null}}},
{"data":{"values":[{"x":0.6,"y":61,"t":"CD22"}]},
"mark":{"type":"text","fontSize":37,"fontWeight":"bold","align":"left","baseline":"middle","color":"black"},
"encoding":{"x":{"field":"x","type":"quantitative","scale":{"domain":[0,44],"nice":false,"zero":false},"axis":null},"y":{"field":"y","type":"quantitative","scale":{"domain":[0,60],"nice":false}},"text":{"field":"t"}}},
{"data":{"values":[{"x":1.6,"y":47.1,"t":"α2-3 linked"},{"x":1.6,"y":33.8,"t":"α2-6 linked"}]},
"mark":{"type":"text","fontSize":40,"fontWeight":"normal","align":"left","baseline":"middle","color":"black"},
"encoding":{"x":{"field":"x","type":"quantitative","scale":{"domain":[0,44],"nice":false,"zero":false},"axis":null},"y":{"field":"y","type":"quantitative","scale":{"domain":[0,60],"nice":false}},"text":{"field":"t"}}}
]}
]
},
{
"width":1488,"height":217,
"resolve":{"scale":{"x":"independent"}},
"layer":[
{"data":{"name":"sia"},
"encoding":{"x":{"field":"g","type":"ordinal","scale":{"paddingInner":0,"paddingOuter":0},"axis":{"bandPosition":0,"labelOffset":-11,"labelAngle":270,"labelFontSize":31,"labelFontWeight":"bold","labelPadding":3,"labelOverlap":false,"minExtent":121,"title":null,"labelExpr":"['NeuAc','1','2','3','4','7','8','9','10','11','12','13','14','15','16','18','1','3','4','6','8','9','10','11','13','15','18','19','20','21','22','23','24','25','26','27','28','29','30','31','32','33','34','NeuAc'][datum.value-1]"}},
"xOffset":{"field":"i","type":"ordinal","scale":{"paddingInner":0,"paddingOuter":0}}},
"layer":[
{"mark":{"type":"bar","fill":"#1c1c1c","stroke":"#555555","strokeWidth":0.4},"encoding":{"y":{"field":"v","type":"quantitative","scale":{"domain":[0,60],"nice":false},"axis":{"values":[0,10,20,30,40,50,60],"labelFontSize":28,"labelFontWeight":"bold","labelPadding":24,"title":null}}}},
{"transform":[{"filter":"isValid(datum.h)"}],"mark":{"type":"rule","color":"black","strokeWidth":1.3,"clip":true},"encoding":{"y":{"field":"v","type":"quantitative","scale":{"domain":[0,60],"nice":false}},"y2":{"field":"h"}}},
{"transform":[{"filter":"isValid(datum.h)"}],"mark":{"type":"tick","color":"black","thickness":2,"size":11,"clip":true},"encoding":{"y":{"field":"h","type":"quantitative","scale":{"domain":[0,60],"nice":false}}}}
]},
{"layer":[
{"data":{"values":[{"k":"a23","x0":0,"x1":16,"y0":0,"y1":6.6},{"k":"a26","x0":16,"x1":44,"y0":0,"y1":6.6}]},
"mark":{"type":"rect","opacity":0.6},
"encoding":{"x":{"field":"x0","type":"quantitative","scale":{"domain":[0,44],"nice":false,"zero":false},"axis":null},"x2":{"field":"x1"},"y":{"field":"y0","type":"quantitative","scale":{"domain":[0,60],"nice":false}},"y2":{"field":"y1"},"color":{"field":"k","type":"nominal","scale":{"domain":["a23","a26"],"range":["#f7e62f","#71ee71"]},"legend":null}}},
{"data":{"values":[{"x":0.6,"y":60.5,"t":"Sialoadhesin"}]},
"mark":{"type":"text","fontSize":37,"fontWeight":"bold","align":"left","baseline":"middle","color":"black"},
"encoding":{"x":{"field":"x","type":"quantitative","scale":{"domain":[0,44],"nice":false,"zero":false},"axis":null},"y":{"field":"y","type":"quantitative","scale":{"domain":[0,60],"nice":false}},"text":{"field":"t"}}}
]}
]
},
{
"width":1488,"height":218,
"resolve":{"scale":{"x":"independent"}},
"layer":[
{"data":{"name":"mag"},
"encoding":{"x":{"field":"g","type":"ordinal","scale":{"paddingInner":0,"paddingOuter":0},"axis":{"bandPosition":0,"labelOffset":-11,"labelAngle":270,"labelFontSize":31,"labelFontWeight":"bold","labelPadding":3,"labelOverlap":false,"title":"Analog Number","titleFontSize":43,"titleFontWeight":"bold","titleX":719,"titleY":79,"titleBaseline":"middle","titleAlign":"center","labelExpr":"['NeuAc','1','2','3','4','7','8','9','10','11','12','13','14','15','16','18','1','3','4','6','8','9','10','11','13','15','18','19','20','21','22','23','24','25','26','27','28','29','30','31','32','33','34','NeuAc'][datum.value-1]"}},
"xOffset":{"field":"i","type":"ordinal","scale":{"paddingInner":0,"paddingOuter":0}}},
"layer":[
{"mark":{"type":"bar","fill":"#1c1c1c","stroke":"#555555","strokeWidth":0.4},"encoding":{"y":{"field":"v","type":"quantitative","scale":{"domain":[0,60],"nice":false},"axis":{"values":[0,10,20,30,40,50,60],"labelFontSize":28,"labelFontWeight":"bold","labelPadding":24,"title":null}}}},
{"transform":[{"filter":"isValid(datum.h)"}],"mark":{"type":"rule","color":"black","strokeWidth":1.3,"clip":true},"encoding":{"y":{"field":"v","type":"quantitative","scale":{"domain":[0,60],"nice":false}},"y2":{"field":"h"}}},
{"transform":[{"filter":"isValid(datum.h)"}],"mark":{"type":"tick","color":"black","thickness":2,"size":11,"clip":true},"encoding":{"y":{"field":"h","type":"quantitative","scale":{"domain":[0,60],"nice":false}}}}
]},
{"layer":[
{"data":{"values":[{"k":"a23","x0":0,"x1":16,"y0":0,"y1":6.7},{"k":"a26","x0":16,"x1":44,"y0":0,"y1":6.7}]},
"mark":{"type":"rect","opacity":0.6},
"encoding":{"x":{"field":"x0","type":"quantitative","scale":{"domain":[0,44],"nice":false,"zero":false},"axis":null},"x2":{"field":"x1"},"y":{"field":"y0","type":"quantitative","scale":{"domain":[0,60],"nice":false}},"y2":{"field":"y1"},"color":{"field":"k","type":"nominal","scale":{"domain":["a23","a26"],"range":["#f7e62f","#71ee71"]},"legend":null}}},
{"data":{"values":[{"x":0.6,"y":58.7,"t":"MAG"}]},
"mark":{"type":"text","fontSize":37,"fontWeight":"bold","align":"left","baseline":"middle","color":"black"},
"encoding":{"x":{"field":"x","type":"quantitative","scale":{"domain":[0,44],"nice":false,"zero":false},"axis":null},"y":{"field":"y","type":"quantitative","scale":{"domain":[0,60],"nice":false}},"text":{"field":"t"}}}
]}
]
}
]
}
